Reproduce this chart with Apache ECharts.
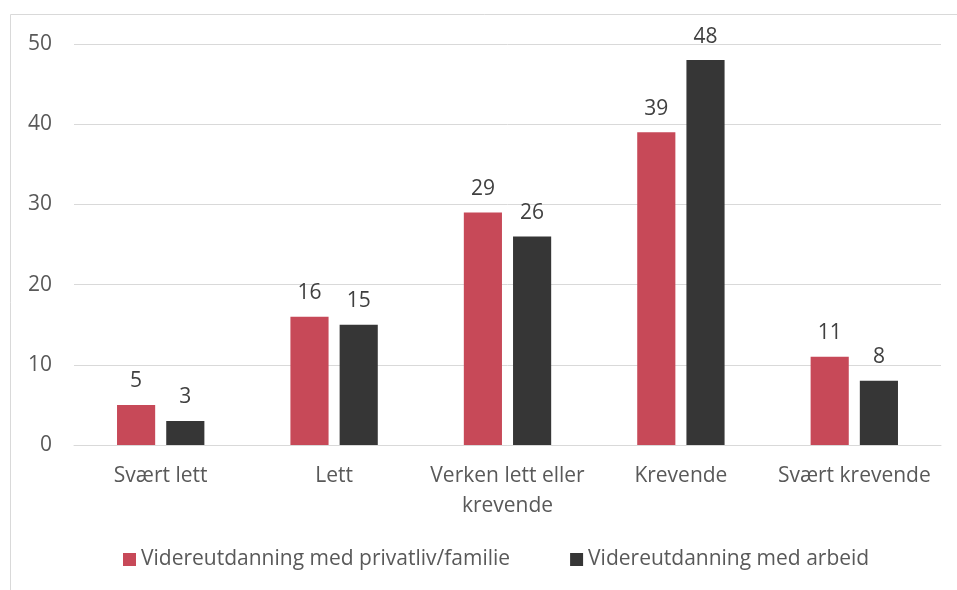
<!DOCTYPE html>
<html>
<head>
<meta charset="utf-8">
<script src="https://cdn.jsdelivr.net/npm/echarts@6/dist/echarts.min.js"></script>
<style>
  html, body { margin: 0; padding: 0; background: #fff; }
  #chart { width: 957px; height: 590px; }
</style>
</head>
<body>
<div id="chart"></div>
<script>
// data
const categories = ['Svært lett', 'Lett', 'Verken lett eller\nkrevende', 'Krevende', 'Svært krevende']
const seriesNames = ['Videreutdanning med privatliv/familie', 'Videreutdanning med arbeid']
const familieValues = [5, 16, 29, 39, 11]
const arbeidValues = [3, 15, 26, 48, 8]

const textColor = '#595959'
const gridColor = '#d9d9d9'
const fontFamily = '"Open Sans", "Noto Sans", sans-serif'

const chart = echarts.init(document.getElementById('chart'))

const labelStyle = {
  show: true,
  position: 'top',
  distance: 13,
  color: '#404040',
  fontSize: 21,
  fontFamily: fontFamily
}

chart.setOption({
  animation: false,
  textStyle: { fontFamily: fontFamily },
  graphic: [
    {
      type: 'rect',
      shape: { x: 10.5, y: 14.5, width: 960, height: 600 },
      style: { fill: 'none', stroke: gridColor, lineWidth: 1 },
      silent: true
    }
  ],
  grid: { left: 74, right: 16, top: 44, bottom: 145 },
  legend: {
    bottom: 15,
    left: 118,
    itemWidth: 13,
    itemHeight: 13,
    itemGap: 60,
    icon: 'rect',
    textStyle: { color: textColor, fontSize: 21, fontFamily: fontFamily },
    data: seriesNames
  },
  xAxis: {
    type: 'category',
    data: categories,
    axisLine: { lineStyle: { color: gridColor, width: 1 } },
    axisTick: { show: false },
    axisLabel: { color: textColor, fontSize: 21, lineHeight: 30, margin: 16, interval: 0 }
  },
  yAxis: {
    type: 'value',
    min: 0,
    max: 50,
    interval: 10,
    axisLine: { show: false },
    axisTick: { show: false },
    splitLine: { lineStyle: { color: gridColor, width: 1 } },
    axisLabel: { color: textColor, fontSize: 21, margin: 22 }
  },
  series: [
    {
      name: seriesNames[0],
      type: 'bar',
      data: familieValues,
      barWidth: '22%',
      barGap: '29%',
      itemStyle: { color: '#c74958' },
      label: labelStyle
    },
    {
      name: seriesNames[1],
      type: 'bar',
      data: arbeidValues,
      barWidth: '22%',
      itemStyle: { color: '#363636' },
      label: labelStyle
    }
  ]
})
</script>
</body>
</html>
